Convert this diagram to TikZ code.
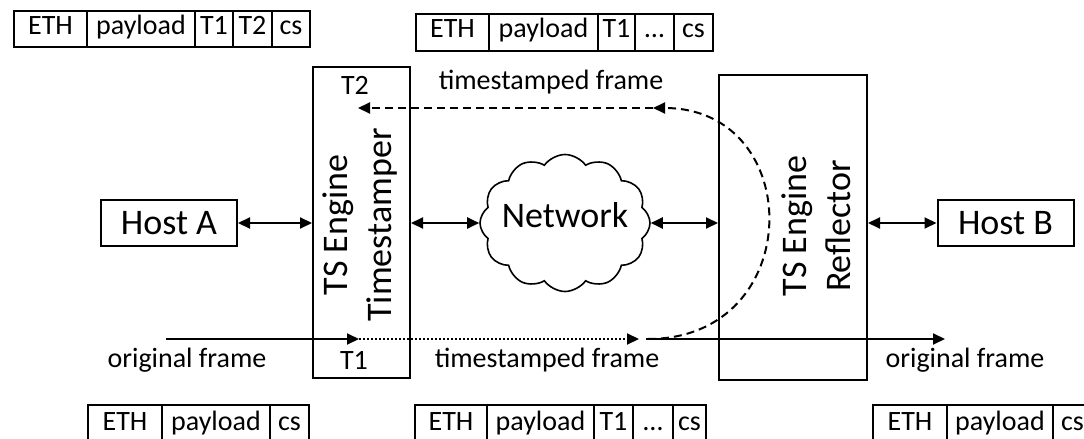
\documentclass[tikz,border=0pt]{standalone}
\usepackage{fontspec}
\setmainfont{Carlito}
\usetikzlibrary{arrows.meta,shapes.symbols,positioning}

\tikzset{
  big_txt/.style={font=\fontsize{18}{22}\selectfont},
  small_txt/.style={font=\fontsize{14}{16}\selectfont},
  host_box/.style={draw,line width=1pt,minimum width=68pt,minimum height=23pt,inner sep=0pt,big_txt},
  engine_box/.style={draw,line width=1pt,inner sep=0pt},
  field/.style={draw,line width=1pt},
  field_txt/.style={small_txt,text height=1.5ex,text depth=.4ex,inner sep=0pt},
  link/.style={line width=1pt,{Triangle[length=6pt,width=5.5pt]}-{Triangle[length=6pt,width=5.5pt]}},
  flow/.style={line width=1pt,-{Triangle[length=6pt,width=5.5pt]}},
}

\begin{document}
\begin{tikzpicture}[
  x=0.5pt,y=-0.5pt,
  dashed line/.style={dash pattern=on 4pt off 2.5pt},
  dotted line/.style={densely dotted},
  ]
  \useasboundingbox (0,0) rectangle (1084,439);

  % hosts and engines
  \node[host_box] (hosta) at (169,223) {Host A};
  \node[host_box] (hostb) at (1005.5,223) {Host B};
  \node[engine_box,minimum width=48.5pt,minimum height=155.5pt] (stamper) at (361.5,222.5) {};
  \node[engine_box,minimum width=74pt,minimum height=152.5pt] (reflector) at (793,227.5) {};
  \node[big_txt,rotate=90,align=center] (stamper_txt) at (360,225) {TS Engine\\Timestamper};
  \node[big_txt,rotate=90,align=center] (reflector_txt) at (816,226) {TS Engine\\Reflector};
  \node[cloud,draw,line width=0.8pt,cloud puffs=12,cloud puff arc=110,aspect=1.2,
        minimum width=85pt,minimum height=68.5pt,inner sep=0pt,
        label={[big_txt,yshift=4pt]center:Network}] (net) at (565,223) {};

  % links
  \draw[link] (hosta.east) -- (hosta.east -| stamper.west);
  \draw[link] (stamper.east |- net) -- (net.west);
  \draw[link] (net.east) -- (net.east -| reflector.west);
  \draw[link] (reflector.east |- hostb) -- (hostb.west);

  % frame path
  \coordinate (orig_in) at (166,339);
  \coordinate (t1) at (359,339);
  \coordinate (ts_out) at (639,339);
  \coordinate (refl_in) at (646,339);
  \coordinate (orig_out) at (945,339);
  \coordinate (loop_start) at (648,339);
  \coordinate (turn) at (653,108);
  \coordinate (t2) at (358,108);

  \draw[flow] (orig_in) -- (t1);
  \draw[flow,dotted line] (t1) -- (ts_out);
  \draw[flow] (refl_in) -- (orig_out);
  \draw[flow,dashed line] (loop_start) .. controls (807,339) and (807,108) .. (turn);
  \draw[flow,dashed line] (turn) -- (t2);

  % labels
  \node[small_txt] (t2_lbl) at (355,85) {T2};
  \node[small_txt] (back_lbl) at (551,82) {timestamped frame};
  \node[small_txt] (t1_lbl) at (354,360) {T1};
  \node[small_txt] (in_lbl) at (187,360) {original frame};
  \node[small_txt] (mid_lbl) at (547,360) {timestamped frame};
  \node[small_txt] (out_lbl) at (965,360) {original frame};

  % frames
  \foreach \l/\r/\t in {14/87/ETH,87/195/payload,195/233/T1,233/272/T2,272/310/cs}
    \draw[field] (\l,11) rectangle node[field_txt]{\t} (\r,47);
  \foreach \l/\r/\t in {416/489/ETH,489/598/payload,598/635/T1,635/674/\ldots,674/713/cs}
    \draw[field] (\l,14) rectangle node[field_txt]{\t} (\r,51);
  \foreach \l/\r/\t in {88/162/ETH,162/270/payload,270/309/cs}
    \draw[field] (\l,405) rectangle node[field_txt]{\t} (\r,445);
  \foreach \l/\r/\t in {415/487/ETH,487/594/payload,594/633/T1,633/673/\ldots,673/706/cs}
    \draw[field] (\l,405) rectangle node[field_txt]{\t} (\r,445);
  \foreach \l/\r/\t in {873/947/ETH,947/1053/payload,1053/1092/cs}
    \draw[field] (\l,405) rectangle node[field_txt]{\t} (\r,445);
\end{tikzpicture}
\end{document}
